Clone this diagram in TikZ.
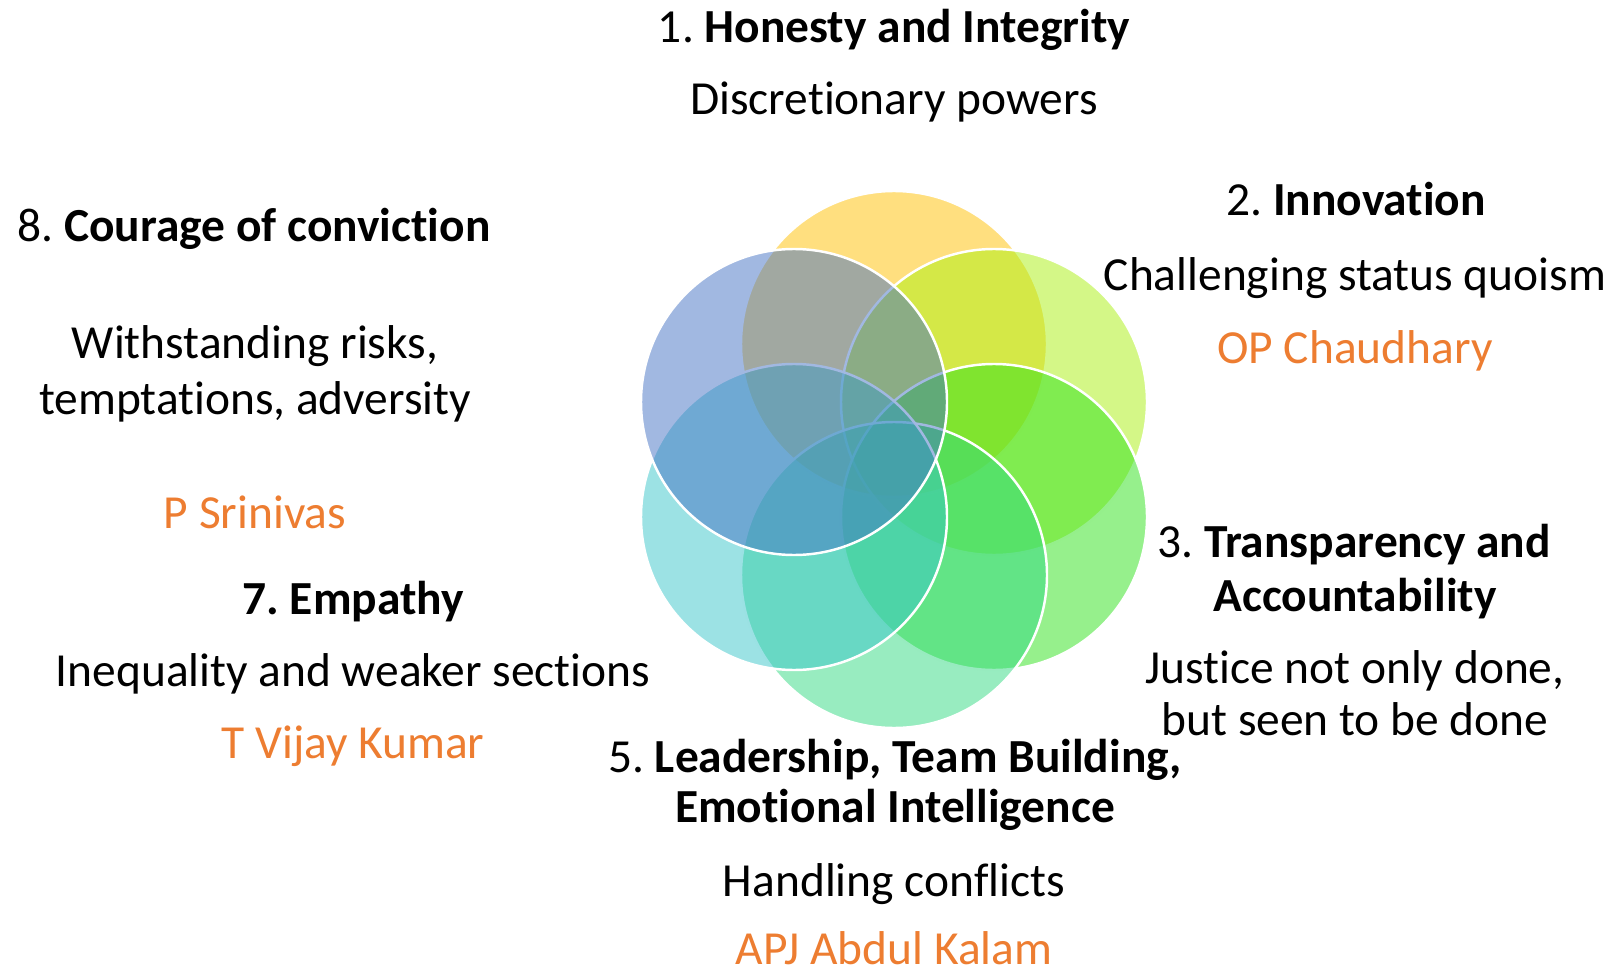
\documentclass[tikz,border=0pt]{standalone}
\usepackage{fontspec}
\setmainfont[Ligatures={NoCommon}]{Carlito}
\usepackage{tikz}
\usetikzlibrary{positioning}
\frenchspacing

\definecolor{petalYellow}{RGB}{255,192,0}
\definecolor{petalLime}{RGB}{170,240,16}
\definecolor{petalGreen}{RGB}{45,225,25}
\definecolor{petalMint}{RGB}{49,217,129}
\definecolor{petalCyan}{RGB}{57,197,201}
\definecolor{petalBlue}{RGB}{68,114,196}
\definecolor{nameOrange}{RGB}{237,125,49}

\begin{document}
\begin{tikzpicture}

\tikzstyle{petal} = [draw=white, circle, minimum size=3.06cm, inner sep=0pt, line width=0.7pt, fill opacity=0.5];
\tikzstyle{txt} = [anchor=base, inner sep=0pt, font=\fontsize{13.5}{16}\selectfont];
\tikzstyle{who} = [txt, text=nameOrange];

\useasboundingbox (0,0) rectangle (16.19,-9.73);

% six petals
\node(honesty) [petal, fill=petalYellow] at (8.94,-3.44) {};
\node(innovation) [petal, fill=petalLime] at (9.94,-4.02) {};
\node(transparency) [petal, fill=petalGreen] at (9.94,-5.17) {};
\node(leadership) [petal, fill=petalMint] at (8.94,-5.75) {};
\node(empathy) [petal, fill=petalCyan] at (7.94,-5.17) {};
\node(courage) [petal, fill=petalBlue] at (7.94,-4.02) {};

% top
\node(t1) [txt] at (8.94,-0.43) {1. \textbf{Honesty and Integrity}};
\node(d1) [txt] at (8.94,-1.15) {Discretionary powers};

% right
\node(t2) [txt] at (13.56,-2.16) {2. \textbf{Innovation}};
\node(d2) [txt] at (13.55,-2.90) {Challenging status quoism};
\node(n2) [who] at (13.55,-3.63) {OP Chaudhary};

\node(t3a) [txt] at (13.54,-5.57) {3. \textbf{Transparency and}};
\node(t3b) [txt] at (13.55,-6.11) {\textbf{Accountability}};
\node(d3a) [txt] at (13.55,-6.83) {Justice not only done,};
\node(d3b) [txt] at (13.55,-7.35) {but seen to be done};

% bottom
\node(t5a) [txt] at (8.95,-7.72) {5. \textbf{Leadership, Team Building,}};
\node(t5b) [txt] at (8.95,-8.22) {\textbf{Emotional Intelligence}};
\node(d5) [txt] at (8.94,-8.96) {Handling conflicts};
\node(n5) [who] at (8.94,-9.64) {APJ Abdul Kalam};

% left
\node(t7) [txt] at (3.53,-6.14) {\textbf{7. Empathy}};
\node(d7) [txt] at (3.53,-6.86) {Inequality and weaker sections};
\node(n7) [who] at (3.53,-7.58) {T Vijay Kumar};

\node(t8) [txt] at (2.54,-2.42) {8. \textbf{Courage of conviction}};
\node(d8a) [txt] at (2.55,-3.58) {Withstanding risks,};
\node(d8b) [txt] at (2.55,-4.15) {temptations, adversity};
\node(n8) [who] at (2.55,-5.29) {P Srinivas};

\end{tikzpicture}
\end{document}
